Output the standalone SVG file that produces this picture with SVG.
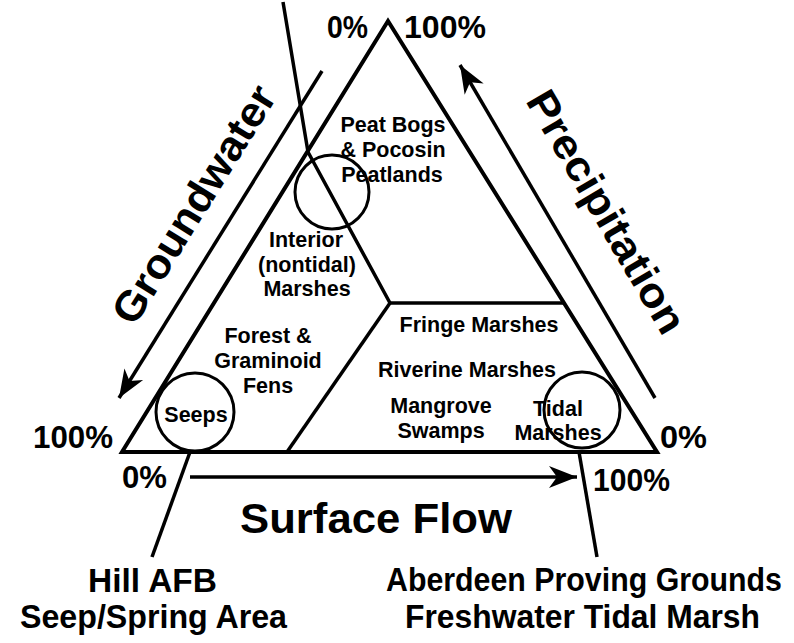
<svg xmlns="http://www.w3.org/2000/svg" width="794" height="643" viewBox="0 0 794 643">
<style>
  text { font-family: "Liberation Sans", Arial, sans-serif; font-weight: bold; fill: #000; }
  .lbl { font-size: 21.5px; text-anchor: middle; }
  .pct { font-size: 31px; }
  .big { font-size: 42px; }
  .site { font-size: 30px; }
  .ln { fill: none; stroke: #000; stroke-width: 3.5; }
  .circ { fill: none; stroke: #000; stroke-width: 3; }
</style>
<defs>
  <marker id="arr" markerUnits="userSpaceOnUse" orient="auto" markerWidth="40" markerHeight="30" refX="0" refY="0" viewBox="-30 -15 40 30" overflow="visible">
    <path d="M0,0 L-28,-11 L-20,0 L-28,11 Z" fill="#000"/>
  </marker>
</defs>
<rect width="794" height="643" fill="#fff"/>

<g id="triangle">
  <polygon points="388,21 122,452 657,452" fill="none" stroke="#000" stroke-width="4" stroke-linejoin="miter"/>
</g>

<g id="connectors">
  <polyline class="ln" points="283,2 308,152 390,303"/>
  <line class="ln" x1="388" y1="303" x2="563" y2="303"/>
  <line class="ln" x1="390" y1="303" x2="287" y2="452"/>
  <line class="ln" x1="190" y1="452" x2="152" y2="557"/>
  <line class="ln" x1="579" y1="452" x2="597" y2="557"/>
  <line class="ln" x1="322" y1="71" x2="119" y2="398" marker-end="url(#arr)"/>
  <line class="ln" x1="655" y1="398" x2="460" y2="65" marker-end="url(#arr)"/>
  <line class="ln" x1="190" y1="477" x2="577" y2="477" marker-end="url(#arr)"/>
</g>

<g id="circle-peat"><circle class="circ" cx="332" cy="192" r="37"/></g>
<g id="circle-seeps"><circle class="circ" cx="195" cy="412" r="39"/></g>
<g id="circle-tidal"><circle class="circ" cx="582" cy="410" r="38"/></g>

<g id="axis-labels">
  <text class="big" transform="translate(206,212) rotate(-58.2)" text-anchor="middle" textLength="272" lengthAdjust="spacingAndGlyphs">Groundwater</text>
  <text class="big" transform="translate(594,219) rotate(59.7)" text-anchor="middle" textLength="274" lengthAdjust="spacingAndGlyphs">Precipitation</text>
  <text class="big" x="240" y="533" font-size="39" textLength="272" lengthAdjust="spacingAndGlyphs">Surface Flow</text>
</g>

<g id="percent-labels">
  <text class="pct" x="327" y="38" textLength="41" lengthAdjust="spacingAndGlyphs">0%</text>
  <text class="pct" x="404" y="38" textLength="82" lengthAdjust="spacingAndGlyphs">100%</text>
  <text class="pct" x="33" y="448" textLength="80" lengthAdjust="spacingAndGlyphs">100%</text>
  <text class="pct" x="122" y="488" textLength="45" lengthAdjust="spacingAndGlyphs">0%</text>
  <text class="pct" x="660" y="448" textLength="47" lengthAdjust="spacingAndGlyphs">0%</text>
  <text class="pct" x="593" y="491" textLength="77" lengthAdjust="spacingAndGlyphs">100%</text>
</g>

<g id="node-peat">
  <text class="lbl" x="393" y="132">Peat Bogs</text>
  <text class="lbl" x="393" y="157">&amp; Pocosin</text>
  <text class="lbl" x="392" y="182">Peatlands</text>
</g>
<g id="node-interior">
  <text class="lbl" x="306" y="247">Interior</text>
  <text class="lbl" x="307" y="272">(nontidal)</text>
  <text class="lbl" x="307" y="296">Marshes</text>
</g>
<g id="node-fens">
  <text class="lbl" x="268" y="343">Forest &amp;</text>
  <text class="lbl" x="268" y="368">Graminoid</text>
  <text class="lbl" x="268" y="393">Fens</text>
</g>
<g id="node-seeps">
  <text class="lbl" x="196" y="422">Seeps</text>
</g>
<g id="node-fringe">
  <text class="lbl" x="479" y="332">Fringe Marshes</text>
</g>
<g id="node-riverine">
  <text class="lbl" x="467" y="377">Riverine Marshes</text>
</g>
<g id="node-mangrove">
  <text class="lbl" x="441" y="413">Mangrove</text>
  <text class="lbl" x="441" y="438">Swamps</text>
</g>
<g id="node-tidal">
  <text class="lbl" x="558" y="416">Tidal</text>
  <text class="lbl" x="558" y="440">Marshes</text>
</g>

<g id="site-hill">
  <text class="site" transform="translate(88,592) scale(1,1.12)" textLength="129" lengthAdjust="spacingAndGlyphs">Hill AFB</text>
  <text class="site" transform="translate(20,628) scale(1,1.12)" textLength="267" lengthAdjust="spacingAndGlyphs">Seep/Spring Area</text>
</g>
<g id="site-aberdeen">
  <text class="site" transform="translate(386,591) scale(1,1.12)" textLength="396" lengthAdjust="spacingAndGlyphs">Aberdeen Proving Grounds</text>
  <text class="site" transform="translate(405,628) scale(1,1.12)" textLength="355" lengthAdjust="spacingAndGlyphs">Freshwater Tidal Marsh</text>
</g>
</svg>
